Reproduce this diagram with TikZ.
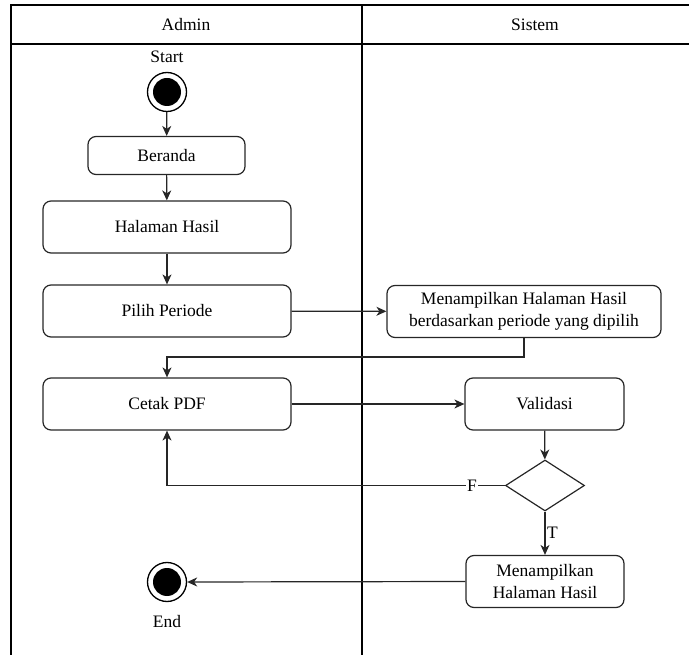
\documentclass[tikz,border=0pt]{standalone}
\usepackage{fontspec}
\setmainfont{Liberation Serif}
\usetikzlibrary{shapes.geometric,arrows.meta}
\begin{document}
\begin{tikzpicture}[x=1pt,y=-1pt,
  every node/.style={font=\fontsize{17.5}{21.5}\selectfont},
  lane/.style={line width=1.4pt,draw=black},
  act/.style={draw=black!85,line width=1.2pt,rectangle,rounded corners=8pt,align=center,inner sep=0pt},
  dec/.style={draw=black!85,line width=1.2pt,diamond,inner sep=0pt,minimum width=79pt,minimum height=51pt},
  arr/.style={draw=black!85,line width=1.2pt,-{Stealth[length=10pt,width=9pt,inset=3pt]}},
  conn/.style={draw=black!85,line width=1.2pt},
  lbl/.style={inner sep=1pt,fill=white}
]
\useasboundingbox (0,0) rectangle (689,655);
\begin{scope}
\clip (0,0) rectangle (689,655);
% swimlanes
\draw[lane] (11,655) -- (11,5) -- (700,5);
\draw[lane] (11,44) -- (700,44);
\draw[lane] (362,5) -- (362,655);
\end{scope}
\node (hA) at (186,25) {Admin};
\node (hS) at (535,25) {Sistem};

% start
\node (startlbl) at (167,57) {Start};
\node[circle,draw=black,line width=1.3pt,minimum size=39pt,inner sep=0pt] (start) at (167,92) {};
\node[circle,fill=black,minimum size=28pt,inner sep=0pt] (startin) at (167,92) {};

\node[act,minimum width=157pt,minimum height=38pt] (ber) at (166.5,155.5) {Beranda};
\node[act,minimum width=248pt,minimum height=52pt] (hal) at (167,227) {Halaman Hasil};
\node[act,minimum width=248pt,minimum height=52pt] (pil) at (167,311) {Pilih Periode};
\node[act,minimum width=274pt,minimum height=52pt] (men1) at (524,311.5) {Menampilkan Halaman Hasil\\berdasarkan periode yang dipilih};
\node[act,minimum width=248pt,minimum height=52pt] (cet) at (167,404) {Cetak PDF};
\node[act,minimum width=159pt,minimum height=52pt] (val) at (544.5,404) {Validasi};
\node[dec] (dia) at (545,485.5) {};
\node[act,minimum width=158pt,minimum height=52pt] (men2) at (545,581.5) {Menampilkan\\Halaman Hasil};

% end
\node[circle,draw=black,line width=1.3pt,minimum size=39pt,inner sep=0pt] (end) at (167,582) {};
\node[circle,fill=black,minimum size=28pt,inner sep=0pt] (endin) at (167,582) {};
\node (endlbl) at (167,622) {End};

% connectors
\draw[arr] (start) -- (ber);
\draw[arr] (ber) -- (hal);
\draw[arr] (hal) -- (pil);
\draw[arr] (pil) -- (men1);
\draw[arr] (men1.south) -- ++(0,19) -| (cet.north);
\draw[arr] (cet) -- (val);
\draw[arr] (val) -- (dia);
\draw[arr] (dia.west) -| (cet.south);
\node[lbl] (F) at (472,486) {F};
\draw[arr] (dia.south) -- (men2.north);
\node[anchor=west,inner sep=1pt] (T) at (546,533) {T};
\draw[arr] (men2.west) -- (end.east);
\end{tikzpicture}
\end{document}
